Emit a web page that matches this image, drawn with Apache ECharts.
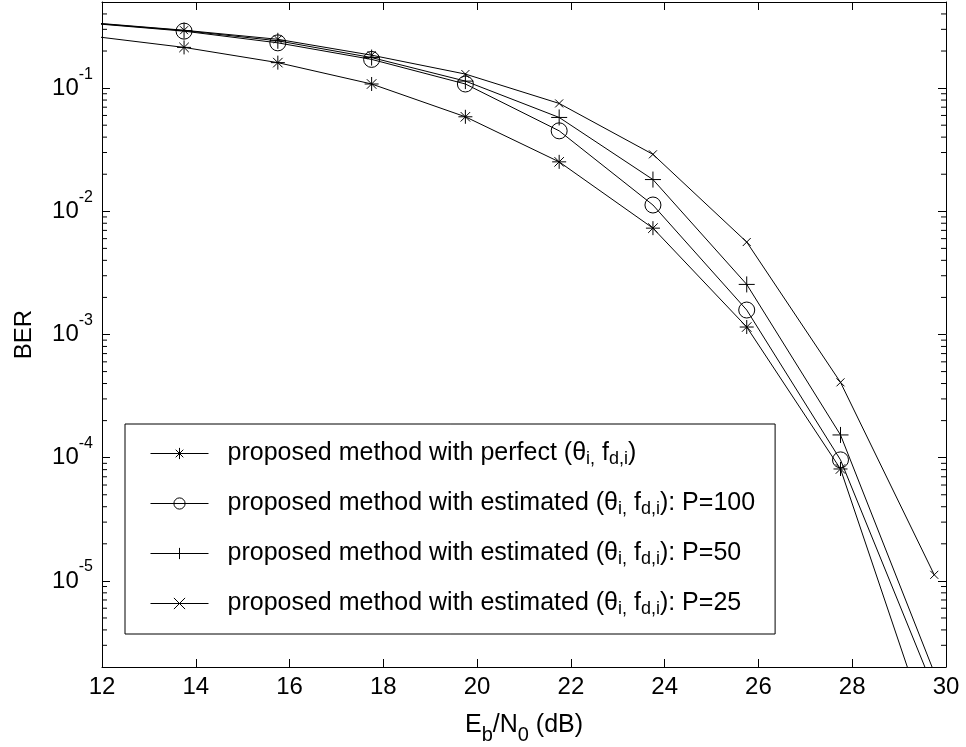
<!DOCTYPE html>
<html>
<head>
<meta charset="utf-8">
<title>BER vs Eb/N0</title>
<script src="https://cdn.jsdelivr.net/npm/echarts@6/dist/echarts.min.js"></script>
<style>
  html, body { margin: 0; padding: 0; background: #fff; }
  #chart { width: 966px; height: 747px; }
</style>
</head>
<body>
<div id="chart"></div>
<script>
// Eb/N0 points (dB); first and last lie outside the visible axis range
var ebn0 = [11.75, 13.75, 15.75, 17.75, 19.75, 21.75, 23.75, 25.75, 27.75, 29.75]

var berPerfect = [0.265, 0.214, 0.161, 0.108, 0.0585, 0.0252, 0.0073, 0.00115, 8.1e-5, 4.5e-7]
var berP100 = [0.336, 0.290, 0.233, 0.171, 0.108, 0.045, 0.01125, 0.00158, 9.6e-5, 1.3e-6]
var berP50 = [0.338, 0.293, 0.242, 0.177, 0.114, 0.0578, 0.0181, 0.00255, 1.53e-4, 1.8e-6]
var berP25 = [0.340, 0.295, 0.249, 0.185, 0.130, 0.0751, 0.029, 0.00563, 4.09e-4, 1.12e-5]

var seriesNames = [
  'proposed method with perfect (θi, fd,i)',
  'proposed method with estimated (θi, fd,i): P=100',
  'proposed method with estimated (θi, fd,i): P=50',
  'proposed method with estimated (θi, fd,i): P=25'
]
var legendRich = [
  '{f|proposed method with perfect (θ}{s|i,}{t| f}{s|d,i}{t|)}',
  '{f|proposed method with estimated (θ}{s|i,}{t| f}{s|d,i}{t|): P=100}',
  '{f|proposed method with estimated (θ}{s|i,}{t| f}{s|d,i}{t|): P=50}',
  '{f|proposed method with estimated (θ}{s|i,}{t| f}{s|d,i}{t|): P=25}'
]

var xTicks = [12, 14, 16, 18, 20, 22, 24, 26, 28, 30]
var yMin = 2e-6
var yMax = 0.5

// matlab style markers: * o + x
var markers = [
  'path://M5 0L5 10M0 5L10 5M1.6 1.6L8.4 8.4M8.4 1.6L1.6 8.4',
  'path://M0 5A5 5 0 1 1 10 5A5 5 0 1 1 0 5Z',
  'path://M5 0L5 10M0 5L10 5',
  'path://M0 0L10 10M10 0L0 10'
]
var markerSizes = [14, 16, 16, 8]

function pairs(xs, ys) {
  return xs.map(function(x, i) { return [x, ys[i]] })
}

// minor ticks of the log axis: 2..9 x 10^k
var minorTicks = []
for (var k = -6; k <= -1; k++) {
  for (var m = 2; m <= 9; m++) {
    var v = m * Math.pow(10, k)
    if (v > yMin && v < yMax) minorTicks.push(v)
  }
}

var black = '#000'
var font = 'Liberation Sans'

var chart = echarts.init(document.getElementById('chart'))

var dataSets = [berPerfect, berP100, berP50, berP25]
var series = dataSets.map(function(d, i) {
  return {
    name: seriesNames[i],
    type: 'line',
    data: pairs(ebn0, d),
    symbol: markers[i],
    symbolSize: markerSizes[i],
    clip: true,
    lineStyle: { color: black, width: 1 },
    itemStyle: { color: 'none', borderColor: black, borderWidth: 1 },
    emphasis: { disabled: true }
  }
})

// short inward minor ticks on both y sides, placed through the log axis
series.push({
  type: 'custom',
  name: 'minor ticks',
  silent: true,
  clip: false,
  data: minorTicks.map(function(v) { return [xTicks[0], v] }),
  renderItem: function(params, api) {
    var y = api.value(1)
    var a = api.coord([xTicks[0], y])
    var b = api.coord([xTicks[xTicks.length - 1], y])
    var st = { stroke: black, lineWidth: 1 }
    return {
      type: 'group',
      children: [
        { type: 'line', shape: { x1: a[0], y1: a[1], x2: a[0] + 5, y2: a[1] }, style: st },
        { type: 'line', shape: { x1: b[0] - 5, y1: b[1], x2: b[0], y2: b[1] }, style: st }
      ]
    }
  }
})

var majorTickStyle = { show: true, inside: true, length: 8, lineStyle: { color: black, width: 1 } }

chart.setOption({
  animation: false,
  backgroundColor: '#fff',
  textStyle: { fontFamily: font, color: black },
  grid: {
    left: 102,
    right: 20,
    top: 2,
    bottom: 80,
    containLabel: false,
    outerBoundsMode: 'none'
  },
  legend: {
    orient: 'vertical',
    left: 125,
    top: 424,
    padding: [15, 20, 16, 25],
    itemGap: 21,
    itemWidth: 58,
    itemHeight: 14,
    backgroundColor: '#fff',
    borderColor: black,
    borderWidth: 1,
    borderRadius: 0,
    selectedMode: false,
    data: seriesNames,
    lineStyle: { color: black, width: 1 },
    itemStyle: { color: 'none', borderColor: black, borderWidth: 1 },
    formatter: function(name) {
      return legendRich[seriesNames.indexOf(name)]
    },
    textStyle: {
      color: black,
      fontFamily: font,
      rich: {
        f: { fontSize: 25, lineHeight: 25, fontFamily: font, color: black, padding: [0, 0, 0, 14] },
        t: { fontSize: 25, lineHeight: 25, fontFamily: font, color: black },
        s: { fontSize: 18, lineHeight: 18, fontFamily: font, color: black, padding: [11, 0, 0, 0] }
      }
    }
  },
  xAxis: [{
    type: 'value',
    position: 'bottom',
    min: xTicks[0],
    max: xTicks[xTicks.length - 1],
    interval: 2,
    axisLine: { show: true, onZero: false, lineStyle: { color: black, width: 1 } },
    axisTick: majorTickStyle,
    splitLine: { show: false },
    axisLabel: { fontSize: 24, color: black, fontFamily: font, margin: 8 },
    name: '{n|E}{s|b}{n|/N}{s|0}{n| (dB)}',
    nameLocation: 'middle',
    nameGap: 31,
    nameTextStyle: {
      color: black,
      fontFamily: font,
      rich: {
        n: { fontSize: 25, lineHeight: 25, fontFamily: font, color: black },
        s: { fontSize: 20, lineHeight: 20, fontFamily: font, color: black, padding: [22, 0, 0, 0] }
      }
    }
  }, {
    type: 'value',
    position: 'top',
    min: xTicks[0],
    max: xTicks[xTicks.length - 1],
    interval: 2,
    axisLine: { show: true, onZero: false, lineStyle: { color: black, width: 1 } },
    axisTick: majorTickStyle,
    splitLine: { show: false },
    axisLabel: { show: false }
  }],
  yAxis: [{
    type: 'log',
    logBase: 10,
    position: 'left',
    min: yMin,
    max: yMax,
    axisLine: { show: true, onZero: false, lineStyle: { color: black, width: 1 } },
    axisTick: majorTickStyle,
    splitLine: { show: false },
    axisLabel: {
      margin: 9,
      formatter: function(v) {
        var e = Math.log10(v)
        if (Math.abs(e - Math.round(e)) > 1e-6) return ''
        return '{b|10}{s|' + Math.round(e) + '}'
      },
      rich: {
        b: { fontSize: 24, lineHeight: 24, fontFamily: font, color: black },
        s: { fontSize: 16, lineHeight: 16, fontFamily: font, color: black, padding: [0, 0, 28, 0] }
      }
    },
    name: 'BER',
    nameLocation: 'middle',
    nameGap: 66,
    nameTextStyle: { fontSize: 24, color: black, fontFamily: font }
  }, {
    type: 'log',
    logBase: 10,
    position: 'right',
    min: yMin,
    max: yMax,
    axisLine: { show: true, onZero: false, lineStyle: { color: black, width: 1 } },
    axisTick: majorTickStyle,
    splitLine: { show: false },
    axisLabel: { show: false }
  }],
  series: series
})
</script>
</body>
</html>
